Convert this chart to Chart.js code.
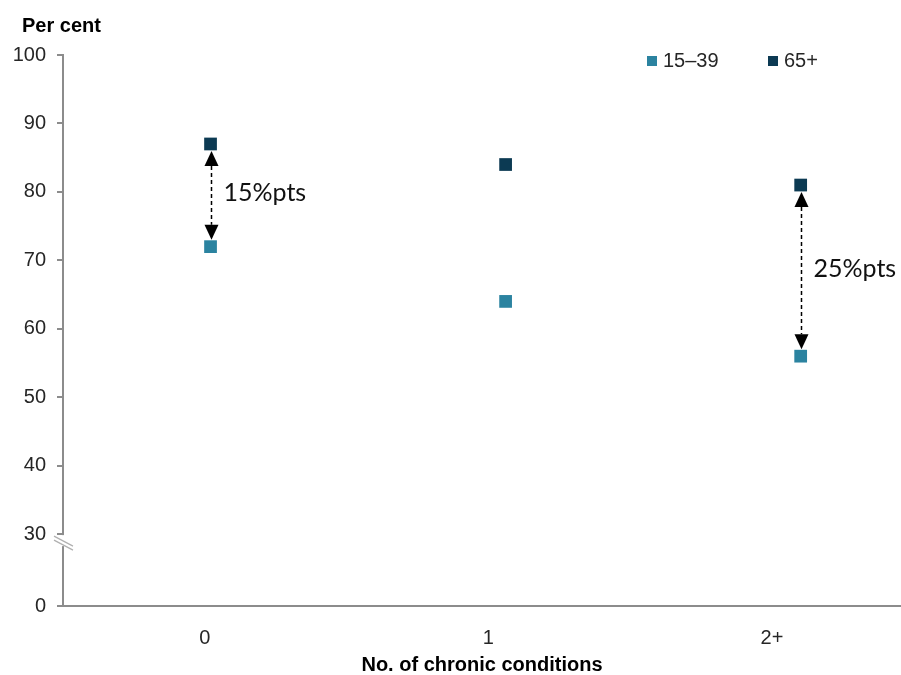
<!DOCTYPE html>
<html>
<head>
<meta charset="utf-8">
<script src="https://cdn.jsdelivr.net/npm/chart.js@4/dist/chart.umd.min.js"></script>
<style>
  html, body { margin: 0; padding: 0; background: #fff; }
  #wrap { width: 901px; height: 675px; position: relative; }
</style>
</head>
<body>
<div id="wrap"><canvas id="chronicChart"></canvas></div>
<script>
// values
const categories = ['0', '1', '2+'];
const youngShare = [72, 64, 56];   // 15–39
const olderShare = [87, 84, 81];   // 65+
const seriesNames = ['15–39', '65+'];
const yTickValues = [30, 40, 50, 60, 70, 80, 90, 100];
const gapNotes = ['15%pts', null, '25%pts'];

const Y_FLOOR = 19.5;     // where the broken axis shows "0"
const LABEL_STEP = 0.961; // category labels sit on a slightly narrower axis than the markers
const AXIS_GREY = '#8c8c8c';
const TEXT = '#262626';
const FONT = '"Liberation Sans", Arial, sans-serif';

const extras = {
  id: 'extras',
  afterDatasetsDraw(chart) {
    const { ctx, scales: { x, y } } = chart;
    ctx.save();
    gapNotes.forEach((note, i) => {
      if (!note) return;
      const px = Math.round(x.getPixelForValue(i)) + 0.5;
      const top = y.getPixelForValue(olderShare[i]) + 7;
      const bot = y.getPixelForValue(youngShare[i]) - 7;
      const head = 15, half = 7;
      ctx.strokeStyle = '#000';
      ctx.lineWidth = 1.5;
      ctx.setLineDash([4, 3]);
      ctx.beginPath();
      ctx.moveTo(px, top + head);
      ctx.lineTo(px, bot - head);
      ctx.stroke();
      ctx.setLineDash([]);
      ctx.fillStyle = '#000';
      ctx.beginPath();
      ctx.moveTo(px, top);
      ctx.lineTo(px - half, top + head);
      ctx.lineTo(px + half, top + head);
      ctx.closePath();
      ctx.fill();
      ctx.beginPath();
      ctx.moveTo(px, bot);
      ctx.lineTo(px - half, bot - head);
      ctx.lineTo(px + half, bot - head);
      ctx.closePath();
      ctx.fill();
      ctx.font = '25px Lato, "Open Sans", sans-serif';
      ctx.fillStyle = '#111';
      ctx.textAlign = 'left';
      ctx.textBaseline = 'middle';
      ctx.fillText(note, px + 12, (top + bot) / 2 - 2);
    });
    ctx.restore();
  },
  afterDraw(chart) {
    const { ctx, scales: { y } } = chart;
    ctx.save();
    // axis title on top
    ctx.font = 'bold 20px ' + FONT;
    ctx.fillStyle = '#000';
    ctx.textBaseline = 'middle';
    ctx.textAlign = 'left';
    ctx.fillText('Per cent', 22, 26);

    // legend
    const legendX = [647, 768];
    chart.data.datasets.forEach((ds, i) => {
      ctx.fillStyle = ds.backgroundColor;
      ctx.fillRect(legendX[i], 56, 10, 10);
      ctx.font = '20px ' + FONT;
      ctx.fillStyle = TEXT;
      ctx.fillText(ds.label, legendX[i] + 16, 61);
    });

    // axis break below 30
    const ax = y.right;
    const y30 = y.getPixelForValue(30);
    ctx.fillStyle = '#fff';
    ctx.fillRect(ax - 3, y30 + 1, 6, 11);
    ctx.strokeStyle = '#b0b0b0';
    ctx.lineWidth = 1.2;
    [0, 4].forEach(d => {
      ctx.beginPath();
      ctx.moveTo(ax - 9, y30 + 2 + d);
      ctx.lineTo(ax + 10, y30 + 12 + d);
      ctx.stroke();
    });
    ctx.restore();
  }
};

new Chart(document.getElementById('chronicChart'), {
  type: 'scatter',
  data: {
    datasets: [
      {
        label: seriesNames[0],
        data: youngShare.map((v, i) => ({ x: i, y: v })),
        backgroundColor: '#2b83a0',
        borderColor: '#2b83a0',
        borderWidth: 0,
        pointStyle: 'rect',
        pointRadius: 9
      },
      {
        label: seriesNames[1],
        data: olderShare.map((v, i) => ({ x: i, y: v })),
        backgroundColor: '#0c3a53',
        borderColor: '#0c3a53',
        borderWidth: 0,
        pointStyle: 'rect',
        pointRadius: 9
      }
    ]
  },
  options: {
    responsive: true,
    maintainAspectRatio: false,
    animation: false,
    layout: { autoPadding: false, padding: { top: 55, right: 0, left: 0, bottom: 0 } },
    plugins: { legend: { display: false }, tooltip: { enabled: false } },
    scales: {
      x: {
        type: 'linear',
        min: -0.5,
        max: 2.34,
        afterBuildTicks: (s) => {
          s.ticks = categories.map((c, i) => ({ value: -0.5 + (i + 0.5) * LABEL_STEP }));
        },
        afterFit: (s) => { s.height = 69; },
        grid: { display: false, drawTicks: false },
        border: { color: AXIS_GREY, width: 2 },
        ticks: {
          padding: 20,
          color: TEXT,
          font: { family: FONT, size: 20 },
          callback: (v, idx) => categories[idx]
        },
        title: {
          display: true,
          text: 'No. of chronic conditions',
          color: '#000',
          padding: { top: 4, bottom: -2 },
          font: { family: FONT, size: 20, weight: 'bold' }
        }
      },
      y: {
        min: Y_FLOOR,
        max: 100,
        afterBuildTicks: (s) => { s.ticks = [Y_FLOOR].concat(yTickValues).map(v => ({ value: v })); },
        afterFit: (s) => { s.width = 63; },
        grid: { drawOnChartArea: false, tickLength: 6, color: AXIS_GREY, lineWidth: 2 },
        border: { color: AXIS_GREY, width: 2 },
        ticks: {
          padding: 11,
          color: TEXT,
          font: { family: FONT, size: 20 },
          callback: (v) => (v === Y_FLOOR ? '0' : v)
        }
      }
    }
  },
  plugins: [extras]
});
</script>
</body>
</html>
